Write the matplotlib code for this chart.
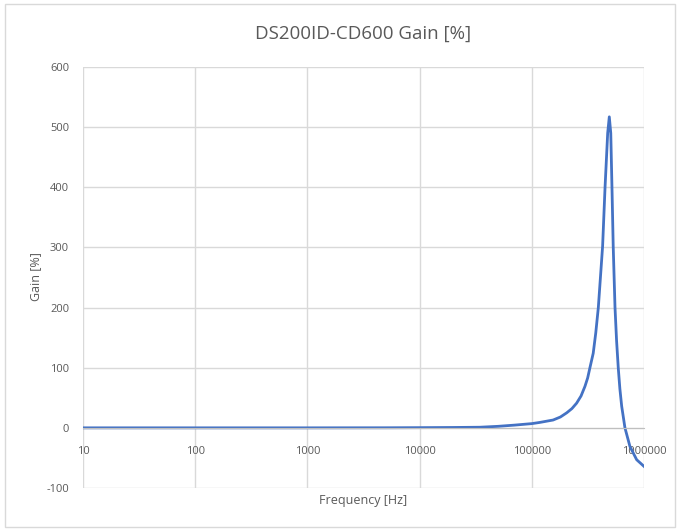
import matplotlib.pyplot as plt
from matplotlib.patches import Rectangle

# frequency [Hz] and gain [%]
freq = [10, 100, 1000, 5000, 10000, 20000, 34500, 50000, 70000, 100000, 118000,
        155000, 180000, 205000, 228000, 251000, 275000, 298000, 315000, 330000,
        353000, 372000, 392000, 420000, 428000, 450000, 475000, 491000, 506000,
        520000, 532000, 552000, 570000, 590000, 610000, 633000, 677000, 750000,
        861000, 1000000]
gain = [0, 0, 0, 0.1, 0.3, 0.6, 1, 2.5, 4.5, 7, 9,
        13, 18, 25, 32, 41, 53, 69, 83, 100,
        124, 158, 200, 280, 302, 400, 490, 517, 490,
        390, 302, 200, 145, 100, 65, 36, 0, -31,
        -53, -64]

xticks = [10, 100, 1000, 10000, 100000, 1000000]
yticks = [-100, 0, 100, 200, 300, 400, 500, 600]

plt.rcParams['font.family'] = ['Open Sans', 'DejaVu Sans']
plt.rcParams['axes.unicode_minus'] = False
grey = '#595959'

fig = plt.figure(figsize=(6.8, 5.31), dpi=100)
ax = fig.add_axes([0.122, 0.081, 0.825, 0.793])

ax.plot(freq, gain, color='#4472c4', lw=2)
ax.set_xscale('log')
ax.set_xlim(10, 1000000)
ax.set_ylim(-100, 600)
ax.set_xticks(xticks)
ax.set_xticklabels([str(t) for t in xticks])
ax.set_yticks(yticks)
ax.minorticks_off()
ax.grid(True, color='#d9d9d9', lw=1)
ax.set_axisbelow(True)

for s in ['top', 'right', 'left']:
    ax.spines[s].set_visible(False)
ax.spines['bottom'].set_position(('data', 0))
ax.spines['bottom'].set_color('#bfbfbf')
ax.tick_params(length=0, labelsize=8, labelcolor=grey)
ax.tick_params(axis='x', pad=13)
ax.tick_params(axis='y', pad=10)

ax.set_title('DS200ID-CD600 Gain [%]', fontsize=13.5, color=grey, pad=20)
fig.text(0.534, 0.057, 'Frequency [Hz]', ha='center', va='center', fontsize=9, color=grey)
fig.text(0.052, 0.48, 'Gain [%]', ha='center', va='center', rotation=90, fontsize=9, color=grey)

fig.patches.append(Rectangle((0.007, 0.008), 0.986, 0.984, transform=fig.transFigure,
                             fill=False, edgecolor='#d9d9d9', lw=1))

fig.savefig('out.png', dpi=100)
